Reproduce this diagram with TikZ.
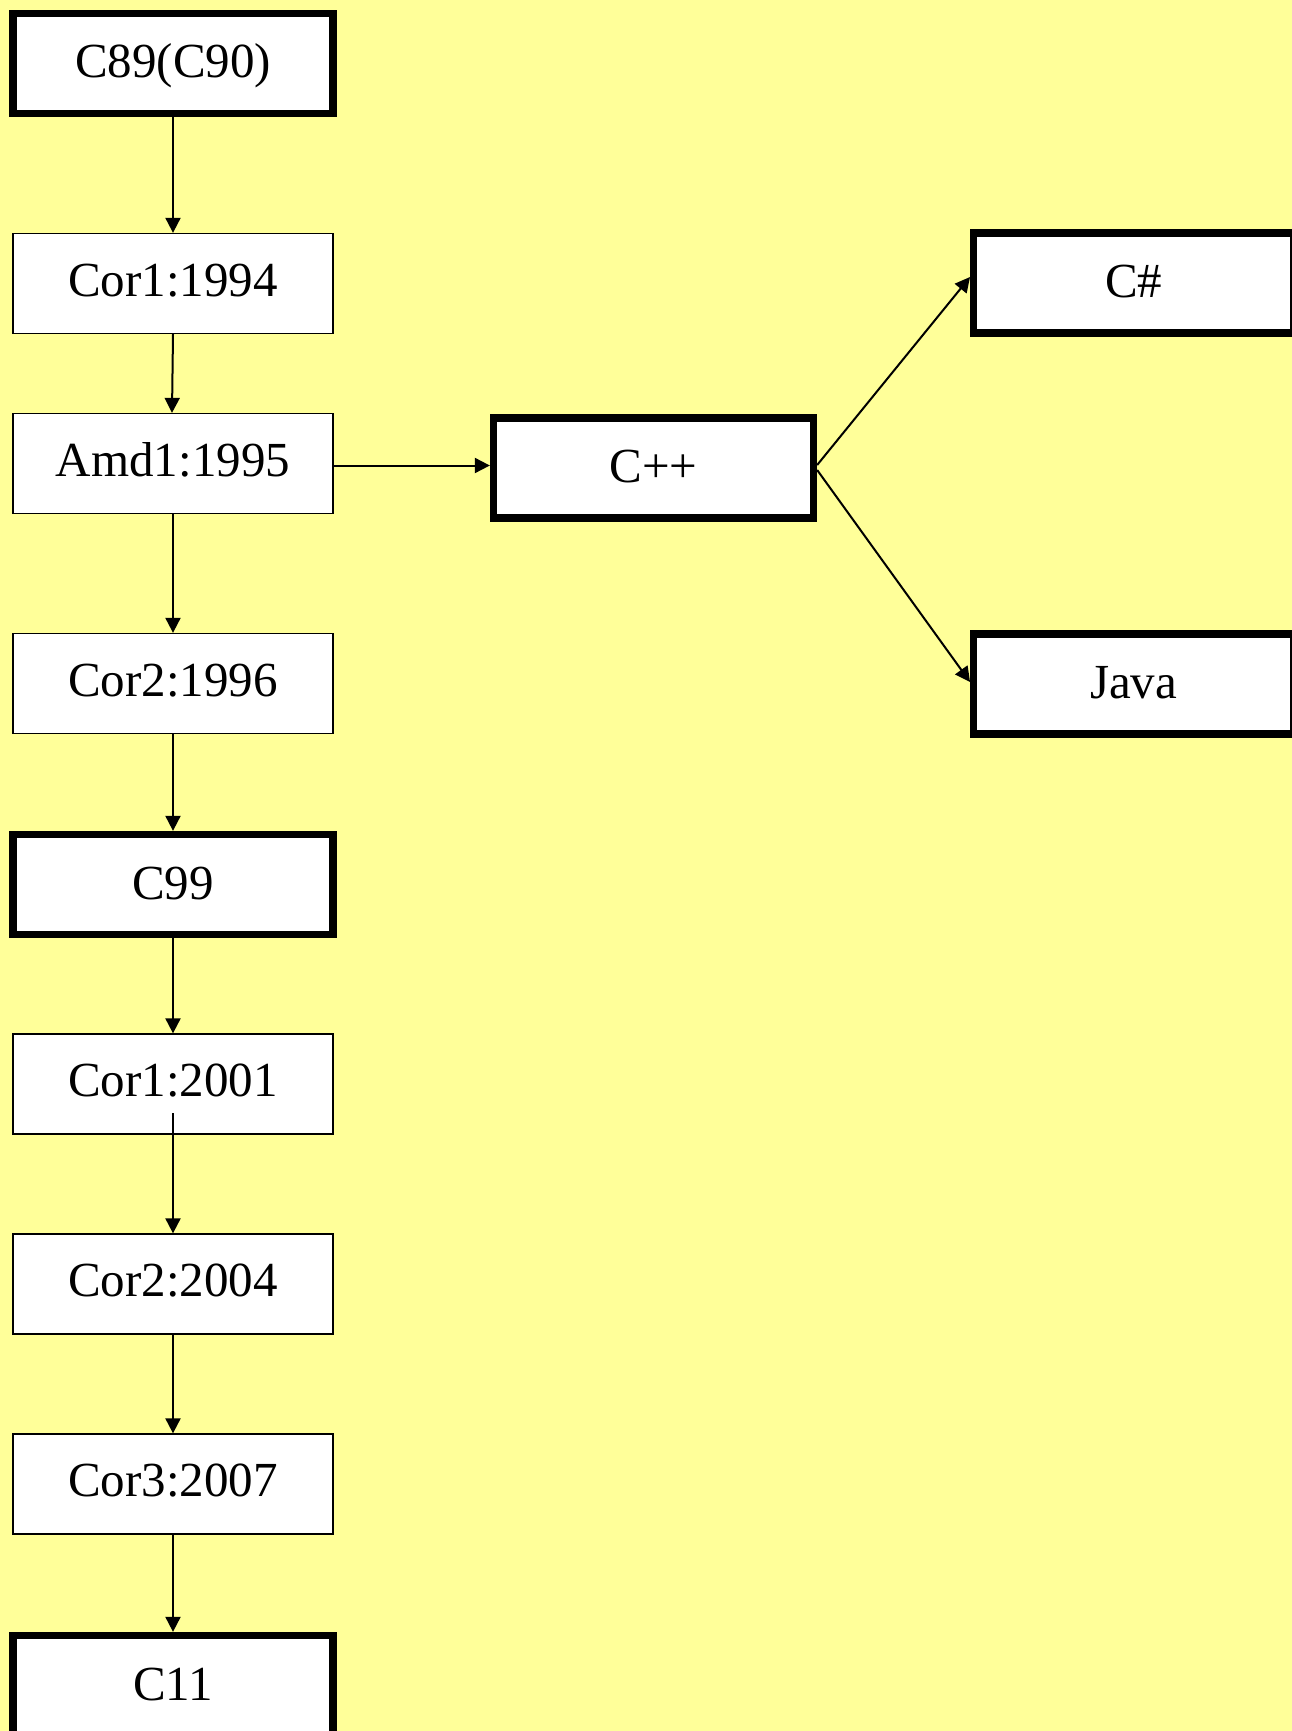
\documentclass[tikz,border=0pt]{standalone}
\usepackage{fontspec}
\setmainfont{Liberation Serif}
\usetikzlibrary{arrows.meta}
\definecolor{bgyellow}{RGB}{255,255,153}
\begin{document}
\begin{tikzpicture}[x=1pt,y=-1pt,
  box/.style={draw=black, fill=white, line width=1.3pt,
    minimum width=320pt, minimum height=100pt, inner sep=0pt,
    text height=35pt, text depth=10pt,
    font=\fontsize{49}{58}\selectfont},
  major/.style={box, line width=7.3pt, text height=38pt, text depth=9pt},
  link/.style={line width=2pt, -{Triangle[length=15pt,width=15pt]}}]
% page and background
\clip (0,0) rectangle (1292,1731);
\fill[bgyellow] (0,0) rectangle (1292,1731);

% main column of the C standard
\node[major] (c89)   at (173, 63.5)   {C89(C90)};
\node[box]   (cor94) at (173, 283.5)  {Cor1:1994};
\node[box]   (amd95) at (173, 463.5)  {Amd1:1995};
\node[box]   (cor96) at (173, 683.5)  {Cor2:1996};
\node[major] (c99)   at (173, 884.5)  {C99};
\node[box]   (cor01) at (173, 1084)   {Cor1:2001};
\node[box]   (cor04) at (173, 1284)   {Cor2:2004};
\node[box]   (cor07) at (173, 1484)   {Cor3:2007};
\node[major] (c11)   at (173, 1685.5) {C11};

% derived languages
\node[major] (cpp)    at (653.5, 468)  {C++};
\node[major] (csharp) at (1133.7, 283) {C\#};
\node[major] (java)   at (1133.7, 684) {Java};

% start of the 2001 -> 2004 link, inside the 2001 box
\coordinate (s01) at (173, 1113);

% connectors
\draw[link] (c89.south) -- (cor94.north);
\draw[link] (cor94.south) -- ([xshift=-1pt]amd95.north);
\draw[link] (amd95.south) -- (cor96.north);
\draw[link] (cor96.south) -- (c99.north);
\draw[link] (c99.south) -- (cor01.north);
\draw[link] (s01) -- (cor04.north);
\draw[link] (cor04.south) -- (cor07.north);
\draw[link] (cor07.south) -- (c11.north);

\draw[link] ([yshift=-2pt]amd95.east) -- ([yshift=-2pt]amd95.east -| cpp.west);
\draw[link] ([yshift=3pt]cpp.east) -- ([yshift=6pt]csharp.west);
\draw[link] ([yshift=-2pt]cpp.east) -- ([yshift=2pt]java.west);
\end{tikzpicture}
\end{document}
